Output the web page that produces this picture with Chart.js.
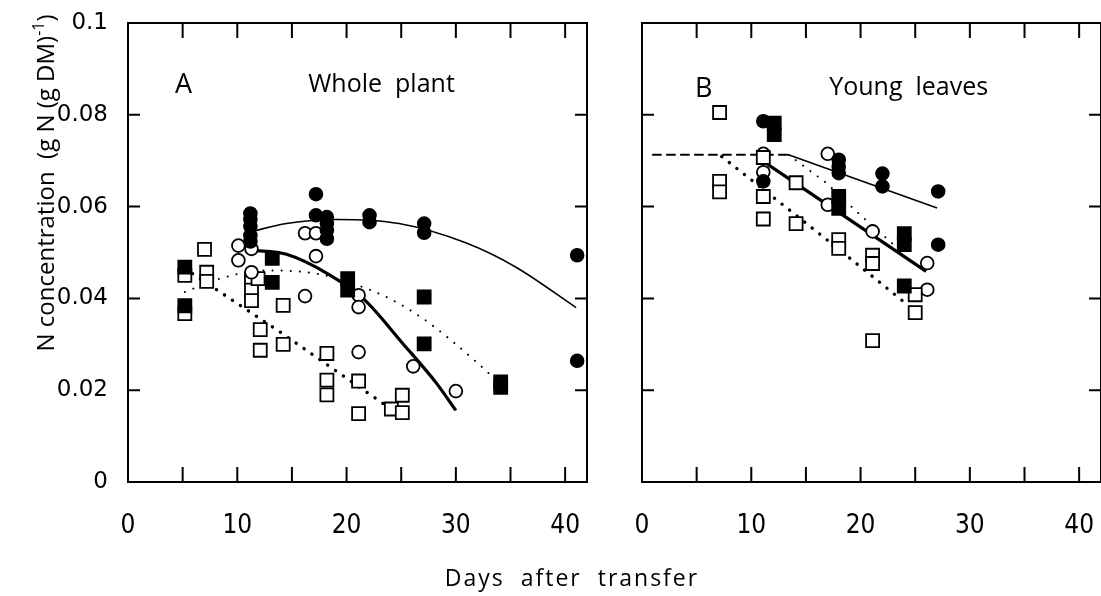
<!DOCTYPE html>
<html lang="en">
<head>
<meta charset="utf-8">
<title>N concentration after transfer</title>
<script src="https://cdn.jsdelivr.net/npm/chart.js@4.4.1/dist/chart.umd.min.js"></script>
<style>
  html, body { margin: 0; padding: 0; background: #fff; }
  #page { position: relative; width: 1101px; height: 596px; overflow: hidden; background: #fff; }
  #wholeCanvas { position: absolute; left: 0; top: 0; }
  #youngCanvas { position: absolute; left: 600px; top: 0; }
  #xTitle {
    position: absolute; left: 372px; top: 566px; width: 400px; text-align: center;
    font: 23px 'Open Sans', sans-serif; line-height: 23px; letter-spacing: 2px;
    color: #000; white-space: pre;
  }
</style>
</head>
<body>
<div id="page">
  <canvas id="wholeCanvas" width="600" height="596"></canvas>
  <!-- runs past the page edge; the last 29px are padding and get clipped -->
  <canvas id="youngCanvas" width="530" height="596"></canvas>
  <div id="xTitle">Days  after  transfer</div>
</div>
<script>
// Axis ticks
const xTicks = [0, 5, 10, 15, 20, 25, 30, 35, 40];
const xLabelled = [0, 10, 20, 30, 40];
const yTicks = [0, 0.02, 0.04, 0.06, 0.08, 0.1];
const X_MAX = 42;

// Panel A: whole plant
const wpFilledCircleDays = [11.2, 11.2, 11.2, 11.2, 11.2, 17.2, 17.2, 18.2, 18.2, 18.2, 18.2, 22.1, 22.1, 27.1, 27.1, 41.1, 41.1];
const wpFilledCircleN = [0.0585, 0.0572, 0.0557, 0.0537, 0.0524, 0.0627, 0.0581, 0.0577, 0.0563, 0.0548, 0.0530, 0.0581, 0.0566, 0.0563, 0.0543, 0.0494, 0.0264];
const wpOpenCircleDays = [10.1, 10.1, 11.3, 11.3, 16.2, 17.2, 17.2, 16.2, 21.1, 21.1, 21.1, 26.1, 30.0];
const wpOpenCircleN = [0.0515, 0.0483, 0.0508, 0.0457, 0.0542, 0.0542, 0.0492, 0.0405, 0.0407, 0.0381, 0.0283, 0.0252, 0.0198];
const wpFilledSquareDays = [5.2, 5.2, 13.2, 13.2, 20.1, 20.1, 27.1, 27.1, 34.1, 34.1];
const wpFilledSquareN = [0.0468, 0.0384, 0.0487, 0.0435, 0.0443, 0.0418, 0.0403, 0.0301, 0.0218, 0.0206];
const wpOpenSquareDays = [5.2, 5.2, 7.0, 7.2, 7.2, 11.3, 11.3, 11.3, 11.9, 14.2, 12.1, 12.1, 14.2, 18.2, 18.2, 18.2, 21.1, 21.1, 24.1, 25.1, 25.1];
const wpOpenSquareN = [0.0450, 0.0367, 0.0507, 0.0457, 0.0437, 0.0443, 0.0418, 0.0395, 0.0443, 0.0385, 0.0332, 0.0287, 0.0300, 0.0280, 0.0222, 0.0190, 0.0220, 0.0149, 0.0159, 0.0189, 0.0151];

// Panel A fitted curves
const wpFitFilledCircleDays = [11.2, 14.5, 19.1, 24.8, 30.9, 35.5, 41.0];
const wpFitFilledCircleN = [0.0545, 0.0563, 0.0572, 0.0563, 0.0521, 0.0468, 0.0380];
const wpFitOpenCircleDays = [11.3, 14.5, 18.4, 21.6, 25.1, 28.2, 30.0];
const wpFitOpenCircleN = [0.0505, 0.0496, 0.0452, 0.0398, 0.0303, 0.0216, 0.0156];
const wpFitFilledSquareDays = [5.2, 8.4, 12.6, 17.2, 20.6, 23.9, 27.0, 29.4, 31.9, 34.0];
const wpFitFilledSquareN = [0.0414, 0.0443, 0.0461, 0.0454, 0.0432, 0.0400, 0.0356, 0.0312, 0.0261, 0.0215];
const wpFitOpenSquareDays = [5.9, 13.9, 24.0];
const wpFitOpenSquareN = [0.0454, 0.0327, 0.0160];

// Panel B: young leaves
const ylFilledCircleDays = [11.1, 11.1, 18.0, 18.0, 18.0, 22.0, 22.0, 27.1, 27.1];
const ylFilledCircleN = [0.0786, 0.0655, 0.0702, 0.0687, 0.0673, 0.0672, 0.0644, 0.0633, 0.0517];
const ylOpenCircleDays = [11.1, 11.1, 17.0, 17.0, 21.1, 26.1, 26.1];
const ylOpenCircleN = [0.0715, 0.0675, 0.0715, 0.0604, 0.0546, 0.0477, 0.0419];
const ylFilledSquareDays = [12.1, 12.1, 18.0, 18.0, 24.0, 24.0, 24.0];
const ylFilledSquareN = [0.0782, 0.0757, 0.0622, 0.0596, 0.0541, 0.0517, 0.0427];
const ylOpenSquareDays = [7.1, 7.1, 7.1, 11.1, 11.1, 11.1, 14.1, 14.1, 18.0, 18.0, 21.1, 21.1, 21.1, 25.0, 25.0];
const ylOpenSquareN = [0.0805, 0.0655, 0.0632, 0.0707, 0.0622, 0.0573, 0.0652, 0.0563, 0.0528, 0.0509, 0.0494, 0.0476, 0.0308, 0.0408, 0.0369];

// Panel B fitted lines
const ylPlateauDays = [1.0, 13.4];
const ylPlateauN = [0.0713, 0.0713];
const ylFitFilledCircleDays = [13.4, 27.0];
const ylFitFilledCircleN = [0.0713, 0.0597];
const ylFitOpenCircleDays = [11.5, 26.0];
const ylFitOpenCircleN = [0.0692, 0.0459];
const ylFitFilledSquareDays = [13.4, 16.9, 20.1, 23.6];
const ylFitFilledSquareN = [0.0713, 0.0651, 0.0579, 0.0505];
const ylFitOpenSquareDays = [7.3, 16.7, 24.3];
const ylFitOpenSquareN = [0.0709, 0.0532, 0.0386];

const TICK_FONT_X = "'Liberation Sans Narrow', 'DejaVu Sans Condensed', 'Open Sans', sans-serif";
const TICK_FONT_Y = "'DejaVu Sans', sans-serif";

function pts(days, values) {
  return days.map((d, i) => ({ x: d, y: values[i] }));
}

// Marker series (lower order is drawn on top of the curves)
function markers(days, values, style, filled) {
  return {
    type: 'scatter',
    data: pts(days, values),
    pointStyle: style,
    pointRadius: style === 'rect' ? 9.2 : 6.4,
    pointBackgroundColor: filled ? '#000' : '#fff',
    pointBorderColor: '#000',
    pointBorderWidth: 1.8,
    order: 1
  };
}

// Fitted curve / line
function curve(days, values, width, dash, smooth) {
  return {
    type: 'scatter',
    data: pts(days, values),
    showLine: true,
    pointRadius: 0,
    borderColor: '#000',
    borderWidth: width,
    borderDash: dash,
    borderCapStyle: dash.length ? 'round' : 'butt',
    tension: smooth ? 0.4 : 0,
    cubicInterpolationMode: smooth ? 'monotone' : 'default',
    order: 2
  };
}

// Box round the plot area with inward tick marks on all four sides
const frame = {
  id: 'frame',
  beforeDatasetsDraw(chart) {
    const { ctx, chartArea: a, scales: { x, y } } = chart;
    ctx.save();
    ctx.strokeStyle = '#000';
    ctx.lineWidth = 2;
    ctx.strokeRect(a.left, a.top, a.right - a.left, a.bottom - a.top);
    ctx.beginPath();
    xTicks.forEach(v => {
      if (v === 0) return;
      const px = x.getPixelForValue(v);
      ctx.moveTo(px, a.bottom); ctx.lineTo(px, a.bottom - 15);
      ctx.moveTo(px, a.top); ctx.lineTo(px, a.top + 15);
    });
    yTicks.forEach(v => {
      if (v === 0 || v === 0.1) return;
      const py = y.getPixelForValue(v);
      ctx.moveTo(a.left, py); ctx.lineTo(a.left + 12, py);
      ctx.moveTo(a.right, py); ctx.lineTo(a.right - 12, py);
    });
    ctx.stroke();
    ctx.restore();
  }
};

// Panel letter and panel name, placed in data units
const panelText = {
  id: 'panelText',
  afterDraw(chart, args, opts) {
    const { ctx, scales: { x, y } } = chart;
    ctx.save();
    ctx.fillStyle = '#000';
    ctx.textBaseline = 'alphabetic';
    opts.items.forEach(t => {
      ctx.font = t.font;
      ctx.textAlign = t.align;
      ctx.fillText(t.text, x.getPixelForValue(t.x), y.getPixelForValue(t.y));
    });
    ctx.restore();
  }
};

// Rotated y-axis title with the -1 exponent
const yTitle = {
  id: 'yTitle',
  afterDraw(chart) {
    const ctx = chart.ctx;
    const main = 'N concentration  (g N (g DM)';
    const sup = '-1';
    const tail = ')';
    const big = "24px 'Open Sans', sans-serif";
    const small = "16px 'Open Sans', sans-serif";
    ctx.save();
    ctx.fillStyle = '#000';
    ctx.font = big;
    const w1 = ctx.measureText(main).width;
    const w3 = ctx.measureText(tail).width;
    ctx.font = small;
    const w2 = ctx.measureText(sup).width;
    ctx.translate(54, 183);
    ctx.rotate(-Math.PI / 2);
    ctx.textBaseline = 'alphabetic';
    ctx.textAlign = 'left';
    let pos = -(w1 + w2 + w3) / 2;
    ctx.font = big; ctx.fillText(main, pos, 0); pos += w1;
    ctx.font = small; ctx.fillText(sup, pos, -10); pos += w2;
    ctx.font = big; ctx.fillText(tail, pos, 0);
    ctx.restore();
  }
};

// Keep the plot box fixed: no extra room for overhanging tick labels
function noLabelPadding(s) {
  s.paddingLeft = 0;
  s.paddingRight = 0;
  s.paddingTop = 0;
  s.paddingBottom = 0;
}

function panelOptions(showYLabels, leftWidth, rightPad, items) {
  return {
    responsive: false,
    animation: false,
    events: [],
    layout: { padding: { top: 23, right: rightPad, bottom: 0, left: 0 } },
    plugins: {
      legend: { display: false },
      tooltip: { enabled: false },
      panelText: { items }
    },
    scales: {
      x: {
        type: 'linear',
        min: 0,
        max: X_MAX,
        grid: { display: false, drawTicks: false },
        border: { display: false },
        afterBuildTicks: s => { s.ticks = xTicks.map(v => ({ value: v })); },
        afterFit: s => { s.height = 114; noLabelPadding(s); },
        ticks: {
          padding: 29,
          color: '#000',
          maxRotation: 0,
          autoSkip: false,
          font: { family: TICK_FONT_X, size: 26 },
          callback: v => xLabelled.includes(v) ? String(v) : ''
        }
      },
      y: {
        type: 'linear',
        min: 0,
        max: 0.1,
        grid: { display: false, drawTicks: false },
        border: { display: false },
        afterBuildTicks: s => { s.ticks = yTicks.map(v => ({ value: v })); },
        afterFit: s => { s.width = leftWidth; noLabelPadding(s); },
        ticks: {
          display: showYLabels,
          padding: 20,
          color: '#000',
          font: { family: TICK_FONT_Y, size: 23 },
          callback: v => String(v)
        }
      }
    }
  };
}

new Chart(document.getElementById('wholeCanvas'), {
  type: 'scatter',
  data: {
    datasets: [
      markers(wpFilledCircleDays, wpFilledCircleN, 'circle', true),
      markers(wpFilledSquareDays, wpFilledSquareN, 'rect', true),
      markers(wpOpenCircleDays, wpOpenCircleN, 'circle', false),
      markers(wpOpenSquareDays, wpOpenSquareN, 'rect', false),
      curve(wpFitFilledCircleDays, wpFitFilledCircleN, 1.6, [], true),
      curve(wpFitOpenCircleDays, wpFitOpenCircleN, 3.2, [], true),
      curve(wpFitFilledSquareDays, wpFitFilledSquareN, 2, [0.1, 9], true),
      curve(wpFitOpenSquareDays, wpFitOpenSquareN, 3.4, [0.1, 9.5], false)
    ]
  },
  options: panelOptions(true, 128, 13, [
    { text: 'A', x: 4.3, y: 0.0847, font: "27px 'Open Sans', sans-serif", align: 'left' },
    { text: 'Whole  plant', x: 23.2, y: 0.0850, font: "25px 'Open Sans', sans-serif", align: 'center' }
  ]),
  plugins: [frame, panelText, yTitle]
});

new Chart(document.getElementById('youngCanvas'), {
  type: 'scatter',
  data: {
    datasets: [
      markers(ylFilledCircleDays, ylFilledCircleN, 'circle', true),
      markers(ylFilledSquareDays, ylFilledSquareN, 'rect', true),
      markers(ylOpenSquareDays, ylOpenSquareN, 'rect', false),
      markers(ylOpenCircleDays, ylOpenCircleN, 'circle', false),
      curve(ylPlateauDays, ylPlateauN, 2, [8, 6], false),
      curve(ylFitFilledCircleDays, ylFitFilledCircleN, 1.6, [], false),
      curve(ylFitOpenCircleDays, ylFitOpenCircleN, 3.2, [], false),
      curve(ylFitFilledSquareDays, ylFitFilledSquareN, 2, [0.1, 9], false),
      curve(ylFitOpenSquareDays, ylFitOpenSquareN, 3.4, [0.1, 9.5], false)
    ]
  },
  options: panelOptions(false, 42, 29, [
    { text: 'B', x: 4.85, y: 0.0839, font: "27px 'Open Sans', sans-serif", align: 'left' },
    { text: 'Young  leaves', x: 24.4, y: 0.0844, font: "25px 'Open Sans', sans-serif", align: 'center' }
  ]),
  plugins: [frame, panelText]
});
</script>
</body>
</html>
